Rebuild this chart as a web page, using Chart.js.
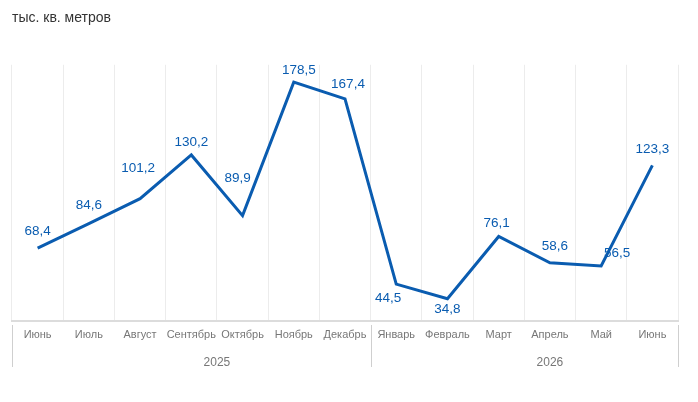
<!DOCTYPE html>
<html lang="ru">
<head>
<meta charset="utf-8">
<script src="https://cdn.jsdelivr.net/npm/chart.js@4.4.1/dist/chart.umd.min.js"></script>
<style>
  html, body { margin: 0; padding: 0; background: #fff; }
  #wrap { width: 698px; height: 402px; position: relative; }
</style>
</head>
<body>
<div id="wrap"><canvas id="chart"></canvas></div>
<script>
const months = ['Июнь', 'Июль', 'Август', 'Сентябрь', 'Октябрь', 'Ноябрь', 'Декабрь',
  'Январь', 'Февраль', 'Март', 'Апрель', 'Май', 'Июнь'];
const values = [68.4, 84.6, 101.2, 130.2, 89.9, 178.5, 167.4, 44.5, 34.8, 76.1, 58.6, 56.5, 123.3];
const years = ['2025', '2026'];
const yearMonthCount = [7, 6];

const FONT = '"Liberation Sans", Arial, sans-serif';
const BLUE = '#0a5cb0';

// where each value label sits relative to its point (px)
const labelShift = [
  [0, -17], [0, -18], [-2, -30], [0, -13], [-5, -37], [5, -12], [3, -15],
  [-8, 14], [0, 11], [-2, -13], [5, -17], [16, -13], [0, -16]
];

const fmt = v => v.toFixed(1).replace('.', ',');

const valueLabels = {
  id: 'valueLabels',
  afterDatasetsDraw(chart) {
    const ctx = chart.ctx;
    const meta = chart.getDatasetMeta(0);
    ctx.save();
    ctx.font = '13.5px ' + FONT;
    ctx.fillStyle = BLUE;
    ctx.textAlign = 'center';
    ctx.textBaseline = 'middle';
    meta.data.forEach((pt, i) => {
      const [dx, dy] = labelShift[i];
      ctx.fillText(fmt(values[i]), pt.x + dx, pt.y + dy);
    });
    ctx.restore();
  }
};

const yearRow = {
  id: 'yearRow',
  afterDraw(chart) {
    const ctx = chart.ctx;
    const x = chart.scales.x;
    const step = (x.right - x.left) / months.length;
    const top = chart.chartArea.bottom + 4;
    const bottom = top + 42;
    ctx.save();
    ctx.strokeStyle = '#cfcfcf';
    ctx.lineWidth = 1;
    ctx.font = '12px ' + FONT;
    ctx.fillStyle = '#777';
    ctx.textAlign = 'center';
    ctx.textBaseline = 'middle';
    let start = 0;
    const edges = [0];
    years.forEach((yr, i) => {
      const n = yearMonthCount[i];
      const x0 = x.left + start * step;
      const x1 = x0 + n * step;
      ctx.fillText(yr, (x0 + x1) / 2 + step / 2, bottom - 4);
      start += n;
      edges.push(start);
    });
    edges.forEach(e => {
      const px = Math.round(x.left + e * step) + 0.5;
      ctx.beginPath();
      ctx.moveTo(px, top);
      ctx.lineTo(px, bottom);
      ctx.stroke();
    });
    ctx.restore();
  }
};

new Chart(document.getElementById('chart'), {
  type: 'line',
  data: {
    labels: months,
    datasets: [{
      data: values,
      borderColor: BLUE,
      borderWidth: 3,
      pointRadius: 0,
      pointHoverRadius: 0,
      tension: 0,
      fill: false
    }]
  },
  options: {
    responsive: true,
    maintainAspectRatio: false,
    animation: false,
    layout: { padding: { left: 12, right: 20, top: 0, bottom: 21 } },
    plugins: {
      legend: { display: false },
      tooltip: { enabled: false },
      title: {
        display: true,
        text: 'тыс. кв. метров',
        align: 'start',
        color: '#333',
        font: { size: 14, family: FONT, weight: 'normal' },
        padding: { top: 10, bottom: 38 }
      }
    },
    scales: {
      x: {
        offset: true,
        grid: { offset: true, color: '#ececec', drawTicks: false, lineWidth: 1 },
        border: { color: '#dcdcdc', width: 2 },
        ticks: {
          color: '#777',
          font: { size: 11, family: FONT },
          padding: 7,
          maxRotation: 0,
          autoSkip: false
        },
        afterFit(s) { s.height = 60; }
      },
      y: { display: false, min: 20, max: 190 }
    }
  },
  plugins: [valueLabels, yearRow]
});
</script>
</body>
</html>
